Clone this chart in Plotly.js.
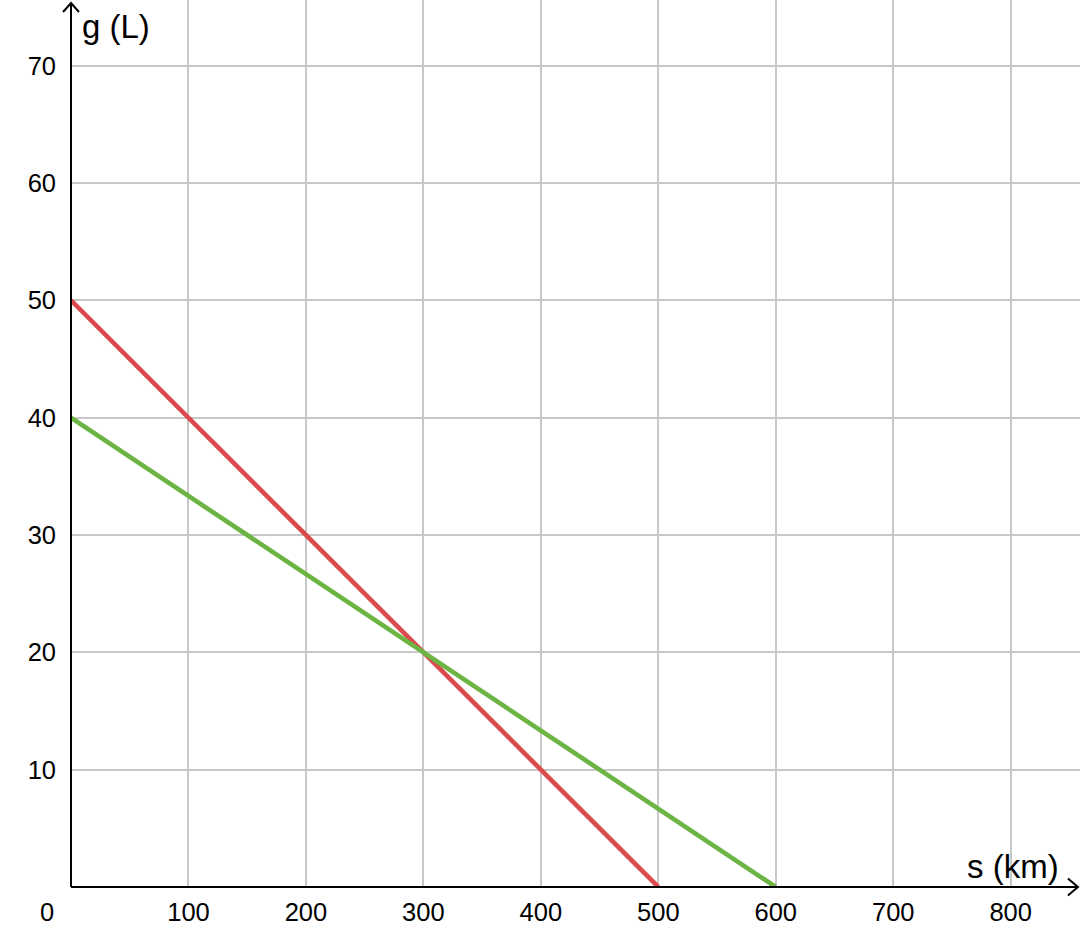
<!DOCTYPE html>
<html>
<head>
<meta charset="utf-8">
<script src="https://cdn.plot.ly/plotly-3.0.1.min.js"></script>
<style>html,body{margin:0;padding:0;background:#fff;}#chart{width:1080px;height:943px;}</style>
</head>
<body>
<div id="chart"></div>
<script>
// Data
const redS = [0, 500];
const redG = [50, 0];
const greenS = [0, 600];
const greenG = [40, 0];
const xTickVals = [100, 200, 300, 400, 500, 600, 700, 800];
const yTickVals = [10, 20, 30, 40, 50, 60, 70];
const xLabel = 's (km)';
const yLabel = 'g (L)';
const originLabel = '0';

const FONT = 'Liberation Sans, Arial, sans-serif';

const traces = [
  {x: redS, y: redG, mode: 'lines', line: {color: '#db4a4c', width: 4.6}, hoverinfo: 'skip', cliponaxis: false},
  {x: greenS, y: greenG, mode: 'lines', line: {color: '#6cb544', width: 4.6}, hoverinfo: 'skip', cliponaxis: false}
];

const layout = {
  width: 1080, height: 943,
  margin: {l: 71, r: 0, t: 0, b: 56, pad: 0},
  paper_bgcolor: '#ffffff', plot_bgcolor: '#ffffff',
  showlegend: false,
  font: {family: FONT, color: '#000', size: 25},
  xaxis: {
    range: [0, 859], tickvals: xTickVals, ticktext: xTickVals.map(String),
    showgrid: true, gridcolor: '#c8c8c8', gridwidth: 2,
    zeroline: false, showline: false, ticks: '', ticklabelstandoff: 7,
    tickfont: {family: FONT, size: 25.5, color: '#000'}, fixedrange: true
  },
  yaxis: {
    range: [0, 75.6], tickvals: yTickVals, ticktext: yTickVals.map(String),
    showgrid: true, gridcolor: '#c8c8c8', gridwidth: 2,
    zeroline: false, showline: false, ticks: '', ticklabelstandoff: 14,
    tickfont: {family: FONT, size: 25.5, color: '#000'}, fixedrange: true
  },
  shapes: [
    // axis lines
    {type: 'line', xref: 'paper', yref: 'paper', x0: 0, y0: 0, x1: 0.998, y1: 0, line: {color: '#000', width: 2}},
    {type: 'line', xref: 'paper', yref: 'paper', x0: 0, y0: 0, x1: 0, y1: 0.9966, line: {color: '#000', width: 2}},
    // arrow heads
    {type: 'path', xref: 'paper', yref: 'paper', path: 'M 0.988 0.0095 L 0.998 0 L 0.988 -0.0095', line: {color: '#000', width: 2}},
    {type: 'path', xref: 'paper', yref: 'paper', path: 'M -0.0079 0.9865 L 0 0.9966 L 0.0079 0.9865', line: {color: '#000', width: 2}}
  ],
  annotations: [
    {text: yLabel, xref: 'paper', yref: 'paper', x: 0.0085, y: 0.97, xanchor: 'left', yanchor: 'middle', showarrow: false, font: {family: FONT, size: 33, color: '#000'}},
    {text: xLabel, xref: 'paper', yref: 'paper', x: 0.9815, y: 0.0235, xanchor: 'right', yanchor: 'middle', showarrow: false, font: {family: FONT, size: 33, color: '#000'}},
    {text: originLabel, xref: 'paper', yref: 'paper', x: -0.0238, y: -0.0285, xanchor: 'center', yanchor: 'middle', showarrow: false, font: {family: FONT, size: 25.5, color: '#000'}}
  ]
};

Plotly.newPlot('chart', traces, layout, {displayModeBar: false, staticPlot: true});
</script>
</body>
</html>
